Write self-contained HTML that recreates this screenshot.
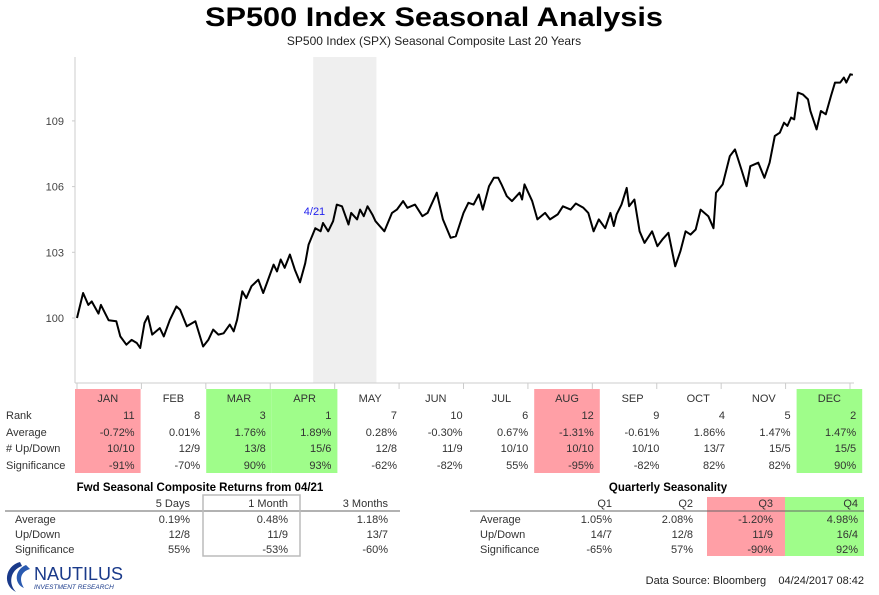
<!DOCTYPE html>
<html><head><meta charset="utf-8">
<style>
body{margin:0;background:#fff;font-family:"Liberation Sans",sans-serif;}
#wrap{position:relative;width:879px;height:595px;overflow:hidden;}
svg text{font-family:"Liberation Sans",sans-serif;}
</style></head>
<body><div id="wrap">
<svg id="svg" width="879" height="595" xmlns="http://www.w3.org/2000/svg">
<text x="434" y="26" text-anchor="middle" font-size="27" font-weight="bold" textLength="458" lengthAdjust="spacingAndGlyphs">SP500 Index Seasonal Analysis</text>
<text x="434" y="45" text-anchor="middle" font-size="12" fill="#222">SP500 Index (SPX) Seasonal Composite Last 20 Years</text>
<g id="plot"></g>
<g id="table"></g>
</svg>
</div>
<script>
const tradingDay=[0,2,3.7,4.8,7,7.8,10.3,12.8,14.1,16.1,17.8,19.5,20.6,22,23.1,24.5,27,28.3,30.3,32.4,33.6,35.8,38.6,41.1,42.8,44.4,46.1,47.8,49.8,51.1,52.2,53.9,55.2,56.9,59.1,60.7,61.9,64.1,65.2,66.4,67.7,69.4,71,72.7,74.4,75.5,77.7,79.4,80.2,81.9,83.5,84.7,86.4,88.5,89.4,91.3,92.3,93.5,94.7,96.3,97.3,100.2,102.7,104.3,106.3,107.7,110.2,112.6,114.3,117.3,119.3,121.8,123.5,126,127.6,129.3,131,132.3,134.3,135.9,137.3,138.4,140.1,141.8,144.3,145.1,145.9,148.4,150.1,152.6,154.2,156.7,158.4,160.9,162.6,165.1,166.7,168.4,170.1,172.2,173.9,175,175.9,177.5,179.2,180,181.7,183.4,185,187.5,189.2,190.8,192.8,195,196.7,198.4,200,201.7,203.3,205.8,207.5,208.3,210.5,212.8,214.5,216.6,218.3,219.5,222.1,224.1,225.8,227.5,229.1,230.5,231.6,232.8,233.8,235,236.6,238.3,239.1,241.1,242.5,244.1,245.8,247.1,248.8,250,250.8,252.1,252.9];
const compositeValue=[100.0,101.14,100.6,100.76,100.2,100.6,99.9,99.85,99.16,98.78,99.0,98.86,98.63,99.77,100.08,99.24,99.54,99.16,99.92,100.53,100.38,99.62,99.85,98.7,99.0,99.47,99.24,99.3,99.7,99.39,99.92,101.22,100.91,101.45,101.75,101.14,101.6,102.44,102.13,102.67,102.29,102.9,102.21,101.63,102.5,103.35,104.1,103.96,104.34,103.96,104.42,105.18,105.1,104.27,104.8,104.5,104.95,104.65,105.1,104.72,104.42,103.96,104.8,104.95,105.34,105.03,105.18,104.65,104.8,105.72,104.5,103.66,103.73,104.8,105.26,105.18,105.64,104.95,106.02,106.4,106.4,106.1,105.56,105.34,105.72,105.41,106.1,105.34,104.5,104.8,104.5,104.73,105.1,104.95,105.23,105.03,104.8,103.96,104.5,104.1,104.8,104.2,104.73,105.18,105.94,105.1,105.41,103.96,103.43,103.96,103.28,103.58,103.89,102.36,103.05,103.96,103.81,104.04,104.95,104.65,104.1,105.72,106.1,107.39,107.7,106.78,106.02,106.93,107.09,106.4,107.09,108.31,108.46,108.92,108.77,109.15,109.07,110.29,110.21,109.98,109.45,108.61,109.45,109.3,110.14,110.75,110.75,110.98,110.75,111.13,111.1];
const yTicks=[100,103,106,109];
const months=["JAN","FEB","MAR","APR","MAY","JUN","JUL","AUG","SEP","OCT","NOV","DEC"];
const rank=["11","8","3","1","7","10","6","12","9","4","5","2"];
const average=["-0.72%","0.01%","1.76%","1.89%","0.28%","-0.30%","0.67%","-1.31%","-0.61%","1.86%","1.47%","1.47%"];
const upDown=["10/10","12/9","13/8","15/6","12/8","11/9","10/10","10/10","10/10","13/7","15/5","15/5"];
const significance=["-91%","-70%","90%","93%","-62%","-82%","55%","-95%","-82%","82%","82%","90%"];
const monthColor=["r","","g","g","","","","r","","","","g"];
const fwdHeads=["5 Days","1 Month","3 Months"];
const fwdRows=[["Average","0.19%","0.48%","1.18%"],["Up/Down","12/8","11/9","13/7"],["Significance","55%","-53%","-60%"]];
const qHeads=["Q1","Q2","Q3","Q4"];
const qRows=[["Average","1.05%","2.08%","-1.20%","4.98%"],["Up/Down","14/7","12/8","11/9","16/4"],["Significance","-65%","57%","-90%","92%"]];
const highlightStart=77, highlightEnd=97.6;

const NS="http://www.w3.org/2000/svg";
function mk(tag,attrs,parent,txt){const e=document.createElementNS(NS,tag);for(const k in attrs)e.setAttribute(k,attrs[k]);if(txt!==undefined)e.textContent=txt;parent.appendChild(e);return e;}
const X=d=>77+d*(850-77)/252;
const Y=v=>318-(v-100)*21.9;
const plot=document.getElementById('plot');
let r=mk('rect',{x:X(highlightStart),y:57,width:X(highlightEnd)-X(highlightStart),height:326,fill:'#efefef'},plot);


let ax=mk('line',{x1:75,y1:57,x2:75,y2:383,stroke:'#ccc'},plot);


let bx=mk('line',{x1:75,y1:383,x2:854,y2:383,stroke:'#ccc'},plot);


yTicks.forEach(t=>{
  let tl=mk('text',{x:64,y:Y(t)+4,'text-anchor':'end','font-size':11,fill:'#444'},plot,t);
  
  
  mk('line',{x1:72,y1:Y(t),x2:75,y2:Y(t),stroke:'#ccc'},plot);
});
for(let i=0;i<=12;i++){
  const x=77+i*(850-77)/12;
  let tk=mk('line',{x1:x,y1:383,x2:x,y2:389,stroke:'#ccc'},plot);
  
  
}
let pts=tradingDay.map((d,i)=>X(d).toFixed(1)+','+Y(compositeValue[i]).toFixed(1)).join(' ');
let pl=mk('polyline',{points:pts,fill:'none',stroke:'#000','stroke-width':2,'stroke-linejoin':'round'},plot);


let ann=mk('text',{x:X(highlightStart)+12,y:215,'text-anchor':'end','font-size':11,fill:'#2222ee'},plot,'4/21');



const tb=document.getElementById('table');
const colW=65.6, col0=75;
const rowY=[402,419,436,452,469];
const labels=["Rank","Average","# Up/Down","Significance"];
labels.forEach((l,j)=>{
  let t=mk('text',{x:6,y:rowY[j+1],'font-size':11,fill:'#333'},tb,l);
  
  
});
months.forEach((m,i)=>{
  const x0=col0+i*colW;
  if(monthColor[i]){
    let c=mk('rect',{x:x0,y:389,width:colW,height:84,fill:monthColor[i]=='r'?'#ff9fa6':'#9ffd8a'},tb);
    
    
  }
  let h=mk('text',{x:x0+colW/2,y:rowY[0],'text-anchor':'middle','font-size':11,fill:'#333'},tb,m);
  
  
  [rank,average,upDown,significance].forEach((arr,j)=>{
    let v=mk('text',{x:x0+colW-6,y:rowY[j+1],'text-anchor':'end','font-size':11,fill:'#333'},tb,arr[i]);
    
    
  });
});
let ft=mk('text',{x:200,y:491,'text-anchor':'middle','font-size':11.5,'font-weight':'bold'},tb,'Fwd Seasonal Composite Returns from 04/21');


const fR=[190,288,388];
fwdHeads.forEach((h,i)=>{let t=mk('text',{x:fR[i],y:507,'text-anchor':'end','font-size':11,fill:'#333'},tb,h);});
mk('line',{x1:5,y1:511,x2:400,y2:511,stroke:'#666'},tb);
let bxr=mk('rect',{x:203,y:495,width:97,height:61,fill:'none',stroke:'#bbb','stroke-width':1.5},tb);


const lrY=[523,538,553];
fwdRows.forEach((row,j)=>{
  let l=mk('text',{x:15,y:lrY[j],'font-size':11,fill:'#333'},tb,row[0]);
  
  
  for(let i=1;i<4;i++){let t=mk('text',{x:fR[i-1],y:lrY[j],'text-anchor':'end','font-size':11,fill:'#333'},tb,row[i]);}
});
let qt=mk('text',{x:668,y:491,'text-anchor':'middle','font-size':11.5,'font-weight':'bold'},tb,'Quarterly Seasonality');


let q3=mk('rect',{x:707,y:497,width:78,height:59,fill:'#ff9fa6'},tb);


let q4=mk('rect',{x:785,y:497,width:79,height:59,fill:'#9ffd8a'},tb);


const qR=[612,693,773,858];
qHeads.forEach((h,i)=>{let t=mk('text',{x:qR[i],y:507,'text-anchor':'end','font-size':11,fill:'#333'},tb,h);});
mk('line',{x1:470,y1:511,x2:864,y2:511,stroke:'#666'},tb);
qRows.forEach((row,j)=>{
  let l=mk('text',{x:480,y:lrY[j],'font-size':11,fill:'#333'},tb,row[0]);
  
  
  for(let i=1;i<5;i++){let t=mk('text',{x:qR[i-1],y:lrY[j],'text-anchor':'end','font-size':11,fill:'#333'},tb,row[i]);}
});
let lg=mk('g',{},tb);


mk('path',{d:'M20 562 C5 566 2 585 16 592 C8 584 10 570 22 566 Z',fill:'#1a3a8a'},lg);
mk('path',{d:'M26 565 C14 570 14 584 24 588 C19 580 20 572 30 569 Z',fill:'#2a5ab0'},lg);
mk('text',{x:34,y:580,'font-size':18,'font-family':'Liberation Serif',fill:'#1a3a8a'},lg,'NAUTILUS');
mk('text',{x:34,y:589,'font-size':6.5,'font-family':'Liberation Serif','font-style':'italic',fill:'#1a3a8a'},lg,'INVESTMENT RESEARCH');
let ds=mk('text',{x:864,y:584,'text-anchor':'end','font-size':11,fill:'#222'},tb,'Data Source: Bloomberg    04/24/2017 08:42');


ds.style.whiteSpace='pre';
</script>
</body></html>
